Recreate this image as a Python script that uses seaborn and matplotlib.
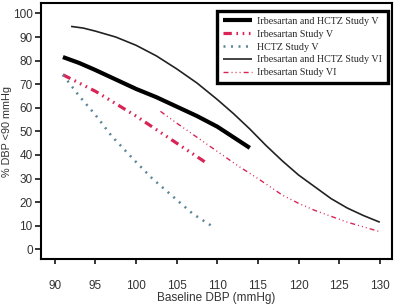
import numpy as np
import pandas as pd
import matplotlib
matplotlib.use("Agg")
import matplotlib.pyplot as plt
import seaborn as sns

# values (baseline DBP vs % reaching DBP < 90)
combo_v_x = [91, 93, 95, 97.5, 100, 102.5, 105, 107.5, 110, 112, 114]
combo_v_y = [81.5, 79, 76, 72, 68, 64.5, 60.5, 56.5, 52, 47.5, 43]

irb_v_x = [91, 95, 100, 105, 108.5]
irb_v_y = [74, 67, 56.5, 45, 37]

hctz_v_x = [91, 93, 95, 97, 100, 102, 105, 107, 109.5]
hctz_v_y = [74, 65, 57, 48, 37, 30, 21, 15, 9.5]

combo_vi_x = [92, 93.5, 95, 97.5, 100, 102.5, 105, 107.5, 110, 112, 114,
              116, 118, 120, 122, 124, 126, 128, 130]
combo_vi_y = [94.5, 93.8, 92.5, 90, 86.5, 82, 76.5, 70.5, 63.5, 57.5, 51,
              44, 37.5, 31.5, 26.5, 21.5, 17.5, 14.3, 11.5]

irb_vi_x = [103, 105, 107.5, 110, 112.5, 115, 118, 120, 122, 124, 126, 128, 130]
irb_vi_y = [58.5, 53.5, 47.5, 41.5, 35.5, 30, 23, 19.5, 16.5, 14, 11.5, 9.5, 7.5]

labels = ["Irbesartan and HCTZ Study V", "Irbesartan Study V", "HCTZ Study V",
          "Irbesartan and HCTZ Study VI", "Irbesartan Study VI"]
x_ticks = [90, 95, 100, 105, 110, 115, 120, 125, 130]
y_ticks = [0, 10, 20, 30, 40, 50, 60, 70, 80, 90, 100]

series = [(combo_v_x, combo_v_y), (irb_v_x, irb_v_y), (hctz_v_x, hctz_v_y),
          (combo_vi_x, combo_vi_y), (irb_vi_x, irb_vi_y)]
df = pd.concat([pd.DataFrame({"dbp": xs, "pct": ys, "series": lab})
                for lab, (xs, ys) in zip(labels, series)], ignore_index=True)

red = "#d92455"
palette = dict(zip(labels, ["#000000", red, "#5c8597", "#222222", red]))
dashes = dict(zip(labels, ["",
                           (2.6, 1.45, 0.5, 1.45, 0.5, 1.45, 0.5, 1.45),
                           (0.8, 2.2),
                           "",
                           (3.6, 2.2, 0.7, 2.2, 0.7, 2.2, 0.7, 2.2)]))
sizes = dict(zip(labels, [3.0, 2.3, 1.8, 1.2, 1.0]))

sns.set_style("white")
plt.rcParams["font.family"] = ["Liberation Sans", "DejaVu Sans"]

fig, ax = plt.subplots(figsize=(4.0, 3.06), dpi=100)
fig.subplots_adjust(left=0.1025, right=0.98, top=0.99, bottom=0.1536)

sns.lineplot(data=df, x="dbp", y="pct", hue="series", style="series", size="series",
             hue_order=labels, style_order=labels, size_order=labels,
             palette=palette, dashes=dashes, sizes=sizes, sort=False,
             estimator=None, legend=False, ax=ax)
for ln in ax.get_lines():
    ln.set_dash_capstyle("butt")
    ln.set_solid_capstyle("butt")
    ln.set_solid_joinstyle("round")

ax.set_xlim(88.3, 131.5)
ax.set_ylim(-4.1, 104.4)
ax.set_xticks(x_ticks)
ax.set_yticks(y_ticks)
ax.tick_params(axis="x", direction="out", length=3.6, width=1.3, pad=11.5,
               labelsize=8.5, labelcolor="#333333", bottom=True)
ax.tick_params(axis="y", direction="out", length=4.5, width=1.3, pad=1.5,
               labelsize=8.5, labelcolor="#333333", left=True)
for side in ["left", "bottom", "top", "right"]:
    ax.spines[side].set_visible(True)
    ax.spines[side].set_color("black")
    ax.spines[side].set_linewidth(1.5)

ax.set_xlabel("Baseline DBP (mmHg)", fontsize=8.5, color="#333333", labelpad=0)
ax.set_ylabel("% DBP <90 mmHg", fontsize=7.8, color="#333333")
ax.yaxis.set_label_coords(-0.083, 0.5)

leg = ax.legend(handles=ax.get_lines(), labels=labels, loc="upper right",
                bbox_to_anchor=(0.989, 0.969), borderaxespad=0, frameon=True,
                fancybox=False, handlelength=2.9, handletextpad=0.5,
                labelspacing=0.38, borderpad=0.6,
                prop={"family": ["Liberation Serif", "DejaVu Serif"], "size": 7.2})
leg.get_frame().set_edgecolor("black")
leg.get_frame().set_linewidth(2.4)
leg.get_frame().set_alpha(1)

fig.savefig("out.png", dpi=100, facecolor="white")
